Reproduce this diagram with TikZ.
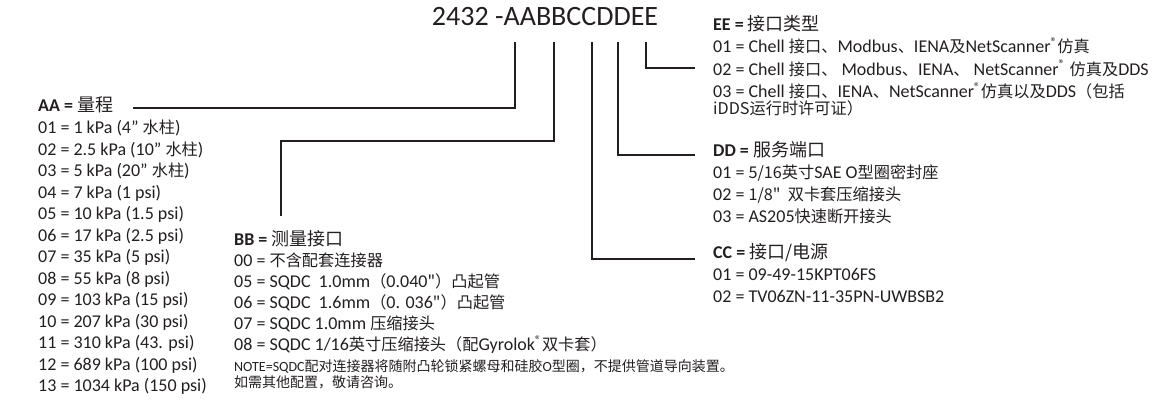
\documentclass[tikz,border=0pt]{standalone}
\usepackage{fontspec}
\setmainfont{Carlito}
\newfontfamily\cjkhead{Noto Sans CJK SC}
\newfontfamily\cjk[Scale=0.9]{Noto Sans CJK SC}
\usetikzlibrary{positioning}
\newcommand{\zh}[1]{{\cjk #1}}
\newcommand{\zhh}[1]{{\cjkhead #1}}
\newcommand{\regmark}{\textsuperscript{®}}
\definecolor{ink}{HTML}{231F20}
\tikzset{
	head/.style={inner sep=0pt, anchor=base west, text=ink, font=\fontsize{18}{21}\selectfont},
	list/.style={inner sep=0pt, align=left, anchor=base west, text=ink, font=\fontsize{18}{#1}\selectfont},
	list/.default=21.5,
	lead/.style={line width=1.8pt, ink},
}

\begin{document}
\begin{tikzpicture}[x=1pt, y=-1pt]
	\useasboundingbox (0,0) rectangle (1158,413);
	% order code
	\node[anchor=base, inner sep=0pt, text=ink, font=\fontsize{28}{30}\selectfont] (code) at (545,25) {2432 -AABBCCDDEE};

	% AA
	\node[head] (aa) at (38,111) {\textbf{AA =} \zhh{量程}};
	\node[list=21.5] (aalist) at ([yshift=-280.5pt]aa.base west) {01 = 1 kPa (4” \zh{水柱})\\
		02 = 2.5 kPa (10” \zh{水柱})\\
		03 = 5 kPa (20” \zh{水柱})\\
		04 = 7 kPa (1 psi)\\
		05 = 10 kPa (1.5 psi)\\
		06 = 17 kPa (2.5 psi)\\
		07 = 35 kPa (5 psi)\\
		08 = 55 kPa (8 psi)\\
		09 = 103 kPa (15 psi)\\
		10 = 207 kPa (30 psi)\\
		11 = 310 kPa (43. psi)\\
		12 = 689 kPa (100 psi)\\
		13 = 1034 kPa (150 psi)};

	% BB
	\node[head] (bb) at (234,245) {\textbf{BB =} \zhh{测量接口}};
	\node[list=21.2] (bblist) at ([yshift=-105.8pt]bb.base west) {00 = \zh{不含配套连接器}\\
		05 = SQDC\ \ 1.0mm\zh{（}0.040\zh{"）凸起管}\\
		06 = SQDC\ \ 1.6mm\zh{（}0. 036\zh{"）凸起管}\\
		07 = SQDC 1.0mm \zh{压缩接头}\\
		08 = SQDC 1/16\zh{英寸压缩接头（配}Gyrolok\regmark\zh{双卡套）}};
	\node[inner sep=0pt, align=left, anchor=base west, text=ink, font=\fontsize{14}{15.5}\selectfont] (bbnote) at ([yshift=-142pt]bb.base west) {NOTE=SQDC\zhh{配对连接器将随附凸轮锁紧螺母和硅胶}O\zhh{型圈，不提供管道导向装置。}\\
		\zhh{如需其他配置，敬请咨询。}};

	% EE
	\node[head] (ee) at (713,30.7) {\textbf{EE =} \zhh{接口类型}};
	\node[list=22.3] (eelist) at ([yshift=-84pt]ee.base west) {01 = Chell \zh{接口、}Modbus\zh{、}IENA\zh{及}NetScanner\regmark\zh{仿真}\\
		02 = Chell \zh{接口、} Modbus\zh{、}IENA\zh{、} NetScanner\regmark\ \zh{仿真及}DDS\\
		03 = Chell \zh{接口、}IENA\zh{、}NetScanner\regmark\zh{仿真以及}DDS\zh{（包括}\\[-5pt]
		\zh{iDDS运行时许可证）}};

	% DD
	\node[head] (dd) at (713,156) {\textbf{DD =} \zhh{服务端口}};
	\node[list=22] (ddlist) at ([yshift=-66.3pt]dd.base west) {01 = \zh{5/16英寸}SAE O\zh{型圈密封座}\\
		02 = \zh{1/8"\ \ 双卡套压缩接头}\\
		03 = AS205\zh{快速断开接头}};

	% CC
	\node[head] (cc) at (713,258.3) {\textbf{CC =} \zhh{接口/电源}};
	\node[list=21.6] (cclist) at ([yshift=-44pt]cc.base west) {01 = 09-49-15KPT06FS\\
		02 = TV06ZN-11-35PN-UWBSB2};

	% leader lines
	\coordinate (aatop) at (515,42);
	\coordinate (aaend) at (133,107.7);
	\coordinate (bbtop) at (554,42);
	\coordinate (bbend) at (281,216);
	\coordinate (cctop) at (592,42);
	\coordinate (ccend) at (695,259);
	\coordinate (ddtop) at (618,42);
	\coordinate (ddend) at (695,155);
	\coordinate (eetop) at (646,42);
	\coordinate (eeend) at (695,68);
	\draw[lead] (aatop) |- (aaend);
	\draw[lead] (bbtop) -- ++(0,99) -| (bbend);
	\draw[lead] (cctop) |- (ccend);
	\draw[lead] (ddtop) |- (ddend);
	\draw[lead] (eetop) |- (eeend);
\end{tikzpicture}
\end{document}
